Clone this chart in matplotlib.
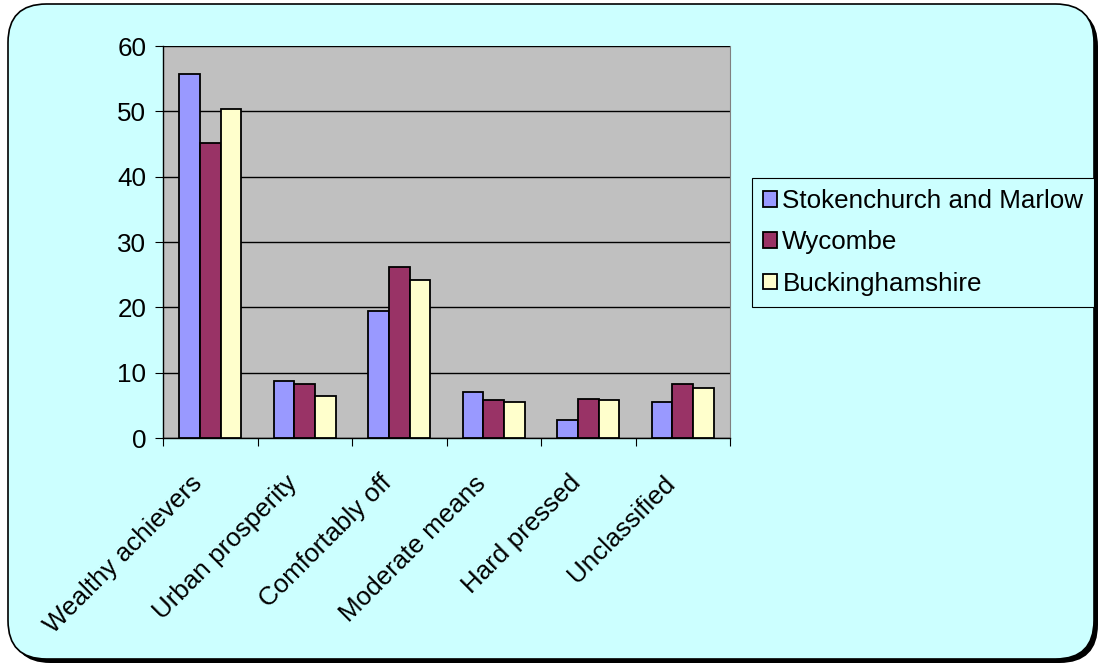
import numpy as np
import matplotlib
matplotlib.use('Agg')
from matplotlib import pyplot as plt
from matplotlib.patches import FancyBboxPatch
from matplotlib.transforms import ScaledTranslation, blended_transform_factory

categories = ['Wealthy achievers', 'Urban prosperity', 'Comfortably off',
              'Moderate means', 'Hard pressed', 'Unclassified']
stokenchurch = [55.7, 8.8, 19.5, 7.0, 2.7, 5.5]
wycombe = [45.2, 8.2, 26.2, 5.8, 6.0, 8.3]
bucks = [50.4, 6.4, 24.2, 5.5, 5.8, 7.6]
series_names = ['Stokenchurch and Marlow', 'Wycombe', 'Buckinghamshire']
colors = ['#9999FF', '#993366', '#FFFFCC']

plt.rcParams['font.family'] = ['Liberation Sans', 'DejaVu Sans']
fs = 18.7

W, H = 1099, 664
fig = plt.figure(figsize=(W / 100, H / 100), dpi=100)
fig.patch.set_facecolor('white')

# background rounded box with shadow
shadow = FancyBboxPatch((12 / W, 1 / H), 1086 / W, 655 / H,
                        boxstyle='round,pad=0,rounding_size=0.035',
                        transform=fig.transFigure, facecolor='black',
                        edgecolor='none', mutation_aspect=W / H, zorder=0)
box = FancyBboxPatch((8 / W, 5 / H), 1086 / W, 655 / H,
                     boxstyle='round,pad=0,rounding_size=0.035',
                     transform=fig.transFigure, facecolor='#CCFFFF',
                     edgecolor='black', linewidth=1.2, mutation_aspect=W / H, zorder=1)
fig.patches.extend([shadow, box])

ax = fig.add_axes([163 / W, (H - 438) / H, 567 / W, 392 / H])
ax.set_facecolor('#C0C0C0')
ax.set_zorder(2)

x = np.arange(len(categories))
w = 0.218
for i, (vals, name, c) in enumerate(zip([stokenchurch, wycombe, bucks], series_names, colors)):
    ax.bar(x + (i - 1) * w, vals, w, color=c, edgecolor='black', linewidth=1.3,
           label=name, zorder=3)

ax.set_xlim(-0.5, len(categories) - 0.5)
ax.set_ylim(0, 60)
ax.set_yticks(range(0, 61, 10))
ax.yaxis.grid(True, color='black', linewidth=1)
ax.set_axisbelow(True)

ax.set_xticks(np.append(x - 0.5, len(categories) - 0.5))
ax.set_xticklabels([''] * (len(categories) + 1))
ax.tick_params(axis='x', which='major', length=6, direction='out')
ax.tick_params(axis='y', length=6, direction='out', labelsize=fs, pad=6)

# rotated category labels, drawn by hand so they can be nudged
trans = blended_transform_factory(ax.transData, ax.transAxes) + \
    ScaledTranslation(-0.20, -0.33, fig.dpi_scale_trans)
for xi, lab in zip(x, categories):
    ax.text(xi, 0, lab, transform=trans, rotation=45, ha='right', va='top',
            rotation_mode='anchor', fontsize=fs, clip_on=False)

for s in ['left', 'bottom']:
    ax.spines[s].set_color('black')
    ax.spines[s].set_linewidth(1)
ax.spines['top'].set_visible(False)
ax.spines['right'].set_color('#808080')

leg = fig.legend(loc='upper left', bbox_to_anchor=(752 / W, 1 - 178 / H),
                 fontsize=fs, frameon=True, fancybox=False, edgecolor='black',
                 facecolor='#CCFFFF', framealpha=1, handlelength=0.55,
                 handleheight=0.55, handletextpad=0.2, labelspacing=0.67,
                 borderpad=0.42, borderaxespad=0)
leg.get_frame().set_linewidth(0.8)
leg.set_zorder(3)

fig.savefig('out.png', dpi=100, facecolor='white')
